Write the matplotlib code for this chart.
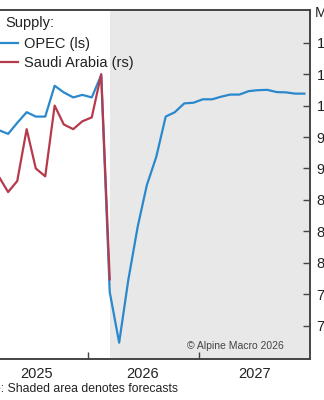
import matplotlib
matplotlib.use("Agg")
import matplotlib.pyplot as plt
import pandas as pd
import numpy as np

plt.rcParams['font.family'] = ['Liberation Sans', 'DejaVu Sans']

# ---- data ----
opec_dates = pd.date_range("2025-03-01", "2027-12-01", freq="MS") + pd.Timedelta(days=14)
opec_values = [27.22, 27.10, 27.45, 27.79, 27.65, 27.65, 28.63, 28.42, 28.26, 28.34,
               28.26, 28.97, 22.07, 20.46, 22.45, 24.15, 25.47, 26.37, 27.65, 27.79,
               28.07, 28.09, 28.20, 28.20, 28.28, 28.35, 28.35, 28.46, 28.49, 28.50,
               28.43, 28.42, 28.38, 28.38]
saudi_dates = pd.date_range("2025-03-01", "2026-03-01", freq="MS") + pd.Timedelta(days=14)
saudi_values = [9.10, 8.90, 9.04, 9.70, 9.20, 9.10, 10.00, 9.76, 9.70, 9.80, 9.85, 10.40, 7.79]
right_ticks = [7.2, 7.6, 8.0, 8.4, 8.8, 9.2, 9.6, 10.0, 10.4, 10.8]
years = [2025, 2026, 2027]
forecast_start = saudi_dates[-1]

blue = "#2a88cc"
red = "#b63a4c"
shade = "#e8e8e8"
txt = "#222222"
spine_c = "#444444"

W, H = 324, 400
fig = plt.figure(figsize=(W / 100, H / 100), dpi=100)
left_px, right_px, top_px, bot_px = -14.1, 309.6, 10, 359
ax = fig.add_axes([left_px / W, 1 - bot_px / H, (right_px - left_px) / W, (bot_px - top_px) / H])
ax2 = ax.twinx()

xmin = pd.Timestamp("2025-02-01")
xmax = pd.Timestamp("2028-01-01")

ax.axvspan(forecast_start, xmax, color=shade, lw=0, zorder=0)
l1, = ax.plot(opec_dates, opec_values, color=blue, lw=1.6, zorder=3)
l2, = ax2.plot(saudi_dates, saudi_values, color=red, lw=1.6, zorder=3)

ax.set_xlim(xmin, xmax)
ax.set_ylim(19.94, 31.04)
ax2.set_ylim(6.776, 11.216)

for a in (ax, ax2):
    a.spines['left'].set_visible(False)
    for s in ('top', 'right', 'bottom'):
        a.spines[s].set_color(spine_c)
        a.spines[s].set_linewidth(1.2)

ax.tick_params(axis='y', left=False, labelleft=False)
ax2.set_yticks(right_ticks)
ax2.set_yticklabels([f"{v:.1f}" for v in right_ticks])
ax2.tick_params(axis='y', direction='in', length=5, width=1, color=spine_c,
                pad=5, labelsize=10.5, labelcolor=txt)

bounds = [pd.Timestamp(f"{y}-01-01") for y in years] + [pd.Timestamp(f"{years[-1] + 1}-01-01")]
major = [b for b in bounds if xmin < b < xmax]
ax.set_xticks(major)
ax.set_xticklabels([])
mids = []
for i, y in enumerate(years):
    a0 = max(bounds[i], xmin)
    a1 = min(bounds[i + 1], xmax)
    mids.append(a0 + (a1 - a0) / 2)
ax.set_xticks(mids, minor=True)
ax.set_xticklabels([str(y) for y in years], minor=True)
ax.tick_params(axis='x', which='major', direction='in', length=5, width=1, color=spine_c)
ax.tick_params(axis='x', which='minor', length=0, pad=6, labelsize=10.5, labelcolor=txt)
ax2.tick_params(axis='x', which='both', bottom=False, top=False)

# legend
fig.text(5 / W, 1 - 23 / H, "Supply:", fontsize=10.5, color=txt, va='center', ha='left')
leg = ax2.legend([l1, l2], ["OPEC (ls)", "Saudi Arabia (rs)"],
                 loc='upper left', bbox_to_anchor=(-11 / W, 1 - 37 / H),
                 bbox_transform=fig.transFigure, frameon=False, fontsize=10.5,
                 handlelength=2.0, handletextpad=0.4, labelspacing=0.32,
                 borderpad=0, borderaxespad=0)
for t in leg.get_texts():
    t.set_color(txt)

fig.text(315 / W, 1 - 13 / H, "Mb/d", fontsize=10.5, color=txt, va='center', ha='left')

ax.text(0.621, 0.038, "\u00a9 Alpine Macro 2026", transform=ax.transAxes,
        fontsize=7.5, color="#444444", ha='left', va='center', zorder=5)

fig.text(-25 / W, 1 - 389 / H, "Note: Shaded area denotes forecasts", fontsize=8.8,
         color=txt, va='center', ha='left')

fig.savefig("out.png", dpi=100)
